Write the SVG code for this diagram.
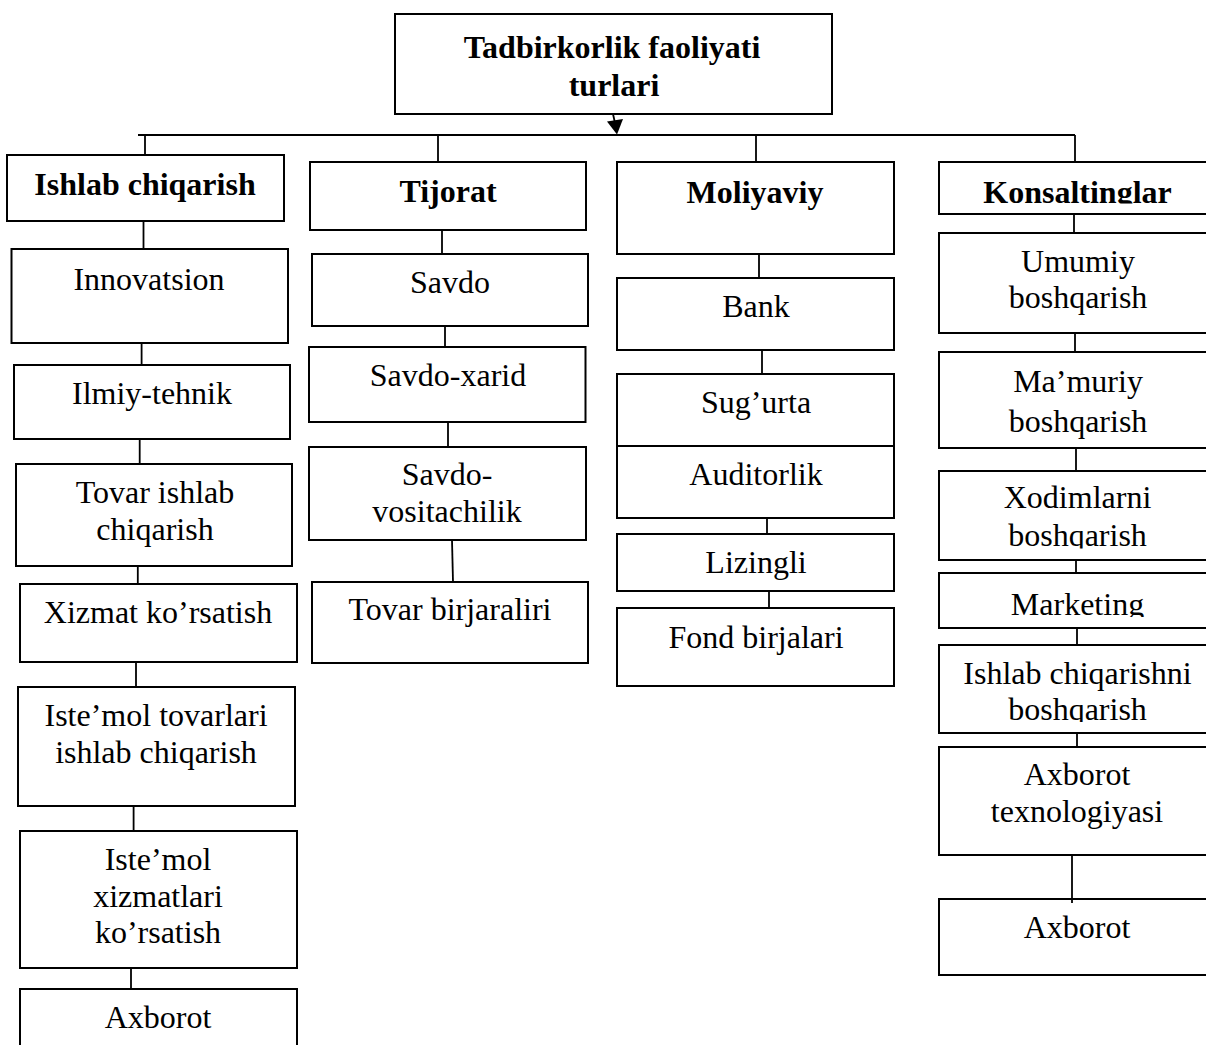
<svg xmlns="http://www.w3.org/2000/svg" width="1206" height="1045" viewBox="0 0 1206 1045">
<style>
rect.b{fill:#fff;stroke:#000;stroke-width:2}
text{font-family:"Liberation Serif","Times New Roman",serif;font-size:32px;fill:#000;text-anchor:middle}
text.h{font-weight:bold}
.c line{stroke:#000;stroke-width:1.8}
</style>
<defs>
<clipPath id="clipKons"><rect x="939" y="162" width="280" height="41.5"/></clipPath>
<clipPath id="clipXod"><rect x="939" y="471" width="280" height="77.5"/></clipPath>
<clipPath id="clipMark"><rect x="939" y="573" width="280" height="44"/></clipPath>
<clipPath id="clipIsh"><rect x="939" y="645" width="280" height="77"/></clipPath>
</defs>
<rect width="1206" height="1045" fill="#fff"/>
<g class="c" id="connectors">
<line x1="138" y1="135" x2="1075" y2="135"/>
<line x1="613" y1="114" x2="615" y2="123"/>
<polygon points="617,134.5 607,121.5 623,119" fill="#000" stroke="none"/>
<line x1="145" y1="135" x2="145" y2="155"/>
<line x1="143.5" y1="221" x2="143.5" y2="249"/>
<line x1="141.6" y1="343" x2="141.6" y2="365"/>
<line x1="139.7" y1="439" x2="139.7" y2="464"/>
<line x1="137.8" y1="566" x2="137.8" y2="584"/>
<line x1="136" y1="662" x2="136" y2="687"/>
<line x1="133.6" y1="806" x2="133.6" y2="831"/>
<line x1="131" y1="968" x2="131" y2="989"/>
<line x1="438" y1="135" x2="438" y2="162"/>
<line x1="442" y1="230" x2="442" y2="254"/>
<line x1="445" y1="326" x2="445" y2="347"/>
<line x1="448" y1="422" x2="448" y2="447"/>
<line x1="452" y1="540" x2="453" y2="582"/>
<line x1="756" y1="135" x2="756" y2="162"/>
<line x1="759" y1="254" x2="759" y2="278"/>
<line x1="762" y1="350" x2="762" y2="374"/>
<line x1="767" y1="518" x2="767" y2="534"/>
<line x1="769" y1="591" x2="769" y2="608"/>
<line x1="1075" y1="135" x2="1075" y2="162"/>
<line x1="1074" y1="214" x2="1074" y2="233"/>
<line x1="1075" y1="333" x2="1075" y2="352"/>
<line x1="1076" y1="448" x2="1076" y2="471"/>
<line x1="1076" y1="560" x2="1076" y2="573"/>
<line x1="1077" y1="628" x2="1077" y2="645"/>
<line x1="1077" y1="733" x2="1077" y2="747"/>
</g>
<g id="root"><rect class="b" x="395" y="14" width="437" height="100"/><text class="h" x="612" y="58">Tadbirkorlik faoliyati</text><text class="h" x="614" y="96">turlari</text></g>
<g id="ishlab"><rect class="b" x="7" y="155" width="277" height="66"/><text class="h" x="145" y="195">Ishlab chiqarish</text></g>
<g id="tijorat"><rect class="b" x="310" y="162" width="276" height="68"/><text class="h" x="448" y="202">Tijorat</text></g>
<g id="moliyaviy"><rect class="b" x="617" y="162" width="277" height="92"/><text class="h" x="755" y="203">Moliyaviy</text></g>
<g id="konsalting"><rect class="b" x="939" y="162" width="280" height="52"/><text class="h" x="1077.5" y="203" clip-path="url(#clipKons)">Konsaltinglar</text></g>
<g id="innovatsion"><rect class="b" x="11.5" y="249" width="276.5" height="94"/><text x="149" y="290">Innovatsion</text></g>
<g id="ilmiy"><rect class="b" x="14" y="365" width="276" height="74"/><text x="152" y="404">Ilmiy-tehnik</text></g>
<g id="tovar-ishlab"><rect class="b" x="16" y="464" width="276" height="102"/><text x="155" y="503">Tovar ishlab</text><text x="155" y="540">chiqarish</text></g>
<g id="xizmat"><rect class="b" x="20" y="584" width="277" height="78"/><text x="158" y="623">Xizmat ko’rsatish</text></g>
<g id="istemol-tovar"><rect class="b" x="18" y="687" width="277" height="119"/><text x="156" y="726">Iste’mol tovarlari</text><text x="156" y="763">ishlab chiqarish</text></g>
<g id="istemol-xizmat"><rect class="b" x="20" y="831" width="277" height="137"/><text x="158" y="870">Iste’mol</text><text x="158" y="907">xizmatlari</text><text x="158" y="943">ko’rsatish</text></g>
<g id="axborot1"><rect class="b" x="20" y="989" width="277" height="70"/><text x="158" y="1028">Axborot</text></g>
<g id="savdo"><rect class="b" x="312" y="254" width="276" height="72"/><text x="450" y="293">Savdo</text></g>
<g id="savdo-xarid"><rect class="b" x="309" y="347" width="276.5" height="75"/><text x="448" y="386">Savdo-xarid</text></g>
<g id="savdo-vosit"><rect class="b" x="309" y="447" width="277" height="93"/><text x="447" y="485">Savdo-</text><text x="447" y="522">vositachilik</text></g>
<g id="tovar-birja"><rect class="b" x="312" y="582" width="276" height="81"/><text x="450" y="620">Tovar birjaraliri</text></g>
<g id="bank"><rect class="b" x="617" y="278" width="277" height="72"/><text x="756" y="317">Bank</text></g>
<g id="sugurta"><rect class="b" x="617" y="374" width="277" height="72"/><text x="756" y="413">Sug’urta</text></g>
<g id="auditorlik"><rect class="b" x="617" y="446" width="277" height="72"/><text x="756" y="485">Auditorlik</text></g>
<g id="lizingli"><rect class="b" x="617" y="534" width="277" height="57"/><text x="756" y="573">Lizingli</text></g>
<g id="fond"><rect class="b" x="617" y="608" width="277" height="78"/><text x="756" y="648">Fond birjalari</text></g>
<g id="umumiy"><rect class="b" x="939" y="233" width="280" height="100"/><text x="1078" y="272">Umumiy</text><text x="1078" y="308">boshqarish</text></g>
<g id="mamuriy"><rect class="b" x="939" y="352" width="280" height="96"/><text x="1078" y="392">Ma’muriy</text><text x="1078" y="432">boshqarish</text></g>
<g id="xodimlar"><rect class="b" x="939" y="471" width="280" height="89"/><g clip-path="url(#clipXod)"><text x="1077.5" y="508">Xodimlarni</text><text x="1077.5" y="546">boshqarish</text></g></g>
<g id="marketing"><rect class="b" x="939" y="573" width="280" height="55"/><text x="1077.5" y="615" clip-path="url(#clipMark)">Marketing</text></g>
<g id="ishlab-bosh"><rect class="b" x="939" y="645" width="280" height="88"/><g clip-path="url(#clipIsh)"><text x="1077.5" y="684">Ishlab chiqarishni</text><text x="1077.5" y="720">boshqarish</text></g></g>
<g id="axborot-tex"><rect class="b" x="939" y="747" width="280" height="108"/><text x="1077" y="785">Axborot</text><text x="1077" y="822">texnologiyasi</text></g>
<g id="axborot2"><rect class="b" x="939" y="899" width="280" height="76"/><text x="1077" y="938">Axborot</text></g>
<g class="c"><line x1="1072" y1="855" x2="1072" y2="903"/></g>
</svg>
